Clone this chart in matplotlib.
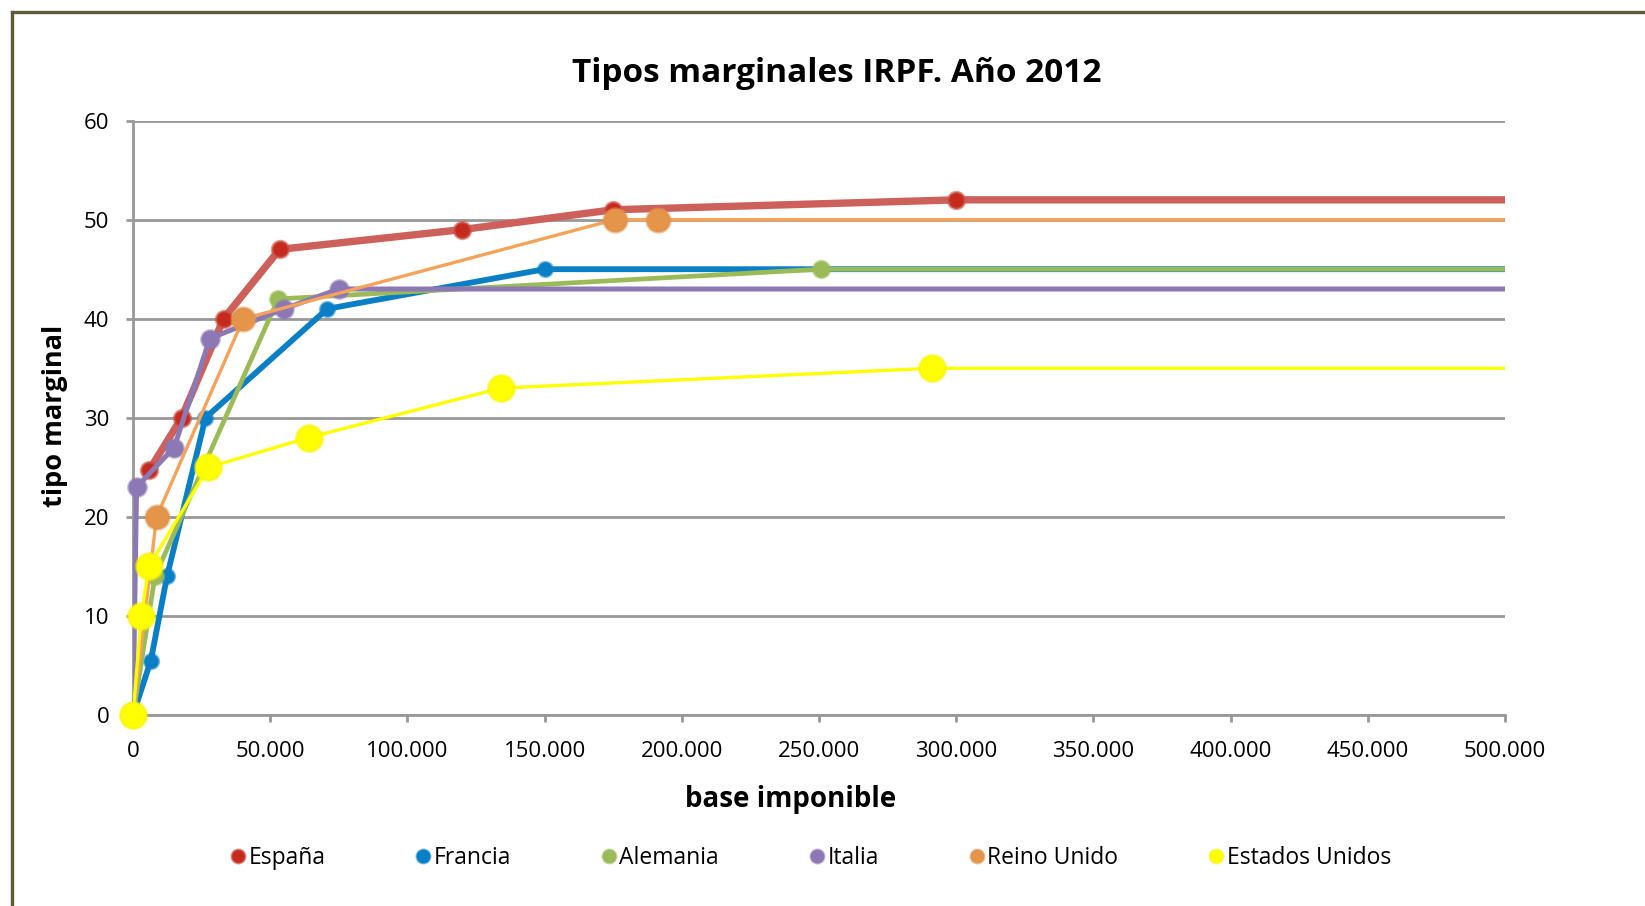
import matplotlib
matplotlib.use("Agg")
import matplotlib.pyplot as plt
from matplotlib.ticker import FuncFormatter, MultipleLocator
from matplotlib.lines import Line2D

plt.rcParams['font.family'] = ['Open Sans', 'DejaVu Sans']

# ---- data (base imponible, tipo marginal) ----
espana_x = [6000, 17707, 33007, 53407, 120000, 175000, 300000, 500000]
espana_y = [24.75, 30, 40, 47, 49, 51, 52, 52]

francia_x = [0, 6500, 12400, 26420, 70830, 150000, 500000]
francia_y = [0, 5.5, 14, 30, 41, 45, 45]

alemania_x = [0, 8004, 52881, 250730, 500000]
alemania_y = [0, 14, 42, 45, 45]

italia_x = [0, 1300, 15000, 28000, 55000, 75000, 500000]
italia_y = [0, 23, 27, 38, 41, 43, 43]

reino_x = [0, 8600, 40200, 175500, 191300, 500000]
reino_y = [0, 20, 40, 50, 50, 50]

eeuu_x = [0, 3000, 5800, 27500, 64000, 134000, 291300, 500000]
eeuu_y = [0, 10, 15, 25, 28, 33, 35, 35]

series_names = ["España", "Francia", "Alemania", "Italia", "Reino Unido", "Estados Unidos"]

title = "Tipos marginales IRPF. Año 2012"
xlabel = "base imponible"
ylabel = "tipo marginal"

# ---- styling ----
styles = [
    # line color, marker face, marker edge, linewidth, markersize
    ("#CD605A", "#C62A1E", (0.80, 0.35, 0.30, 0.6), 5.3, 12),
    ("#0A7FC6", "#0A7FC6", (0.04, 0.5, 0.78, 0.5), 4.2, 10.5),
    ("#9BBB59", "#9BBB59", (0.61, 0.73, 0.35, 0.5), 3.4, 12),
    ("#8B78B4", "#8B78B4", (0.55, 0.47, 0.71, 0.5), 3.6, 13),
    ("#F7A25A", "#E4954A", (0.89, 0.58, 0.29, 0.5), 2.4, 17),
    ("#FFFF00", "#FFFF00", (0.98, 0.95, 0.0, 0.5), 2.4, 19),
]

data = [(espana_x, espana_y), (francia_x, francia_y), (alemania_x, alemania_y),
        (italia_x, italia_y), (reino_x, reino_y), (eeuu_x, eeuu_y)]

fig = plt.figure(figsize=(16.45, 9.06), dpi=100)
ax = fig.add_axes([133/1645, 1-715/906, (1505-133)/1645, (715-120.6)/906])

handles = []
for i, ((xs, ys), name, st) in enumerate(zip(data, series_names, styles)):
    lc, mf, me, lw, ms = st
    ax.plot(xs, ys, color=lc, lw=lw, zorder=3 + i, solid_joinstyle='round',
            solid_capstyle='butt')
    ax.plot(xs[:-1], ys[:-1], ls='none', marker='o', markersize=ms,
            markerfacecolor=mf, markeredgecolor=me, markeredgewidth=2.0,
            zorder=3 + i, clip_on=False)
    handles.append(Line2D([], [], ls='none', marker='o', markersize=10,
                          markerfacecolor=mf, markeredgecolor=me,
                          markeredgewidth=1.5, label=name))

ax.set_xlim(0, 500000)
ax.set_ylim(0, 60)
ax.xaxis.set_major_locator(MultipleLocator(50000))
ax.yaxis.set_major_locator(MultipleLocator(10))
ax.xaxis.set_major_formatter(FuncFormatter(lambda v, p: f"{int(v):,}".replace(",", ".")))
ax.yaxis.set_major_formatter(FuncFormatter(lambda v, p: f"{int(v)}"))

grid_c = "#989898"
ax.grid(axis='y', color=grid_c, lw=2.0, zorder=1)
ax.set_axisbelow(True)
for s in ['top', 'right']:
    ax.spines[s].set_visible(False)
for s in ['left', 'bottom']:
    ax.spines[s].set_color(grid_c)
    ax.spines[s].set_linewidth(2.0)
    ax.spines[s].set_zorder(2)
ax.tick_params(axis='both', color=grid_c, width=2.0, length=5, labelsize=16,
               labelcolor='black', pad=12)
ax.tick_params(axis='x', pad=14)

fig.text(837/1645, 1-74/906, title, ha='center', va='center',
         fontsize=24, fontweight='bold')
fig.text(791/1645, 1-800/906, xlabel, ha='center', va='center',
         fontsize=20, fontweight='bold')
fig.text(54.6/1645, 1-416/906, ylabel, ha='center', va='center',
         fontsize=19.5, fontweight='bold', rotation=90)

fig.legend(handles=handles, loc='center', bbox_to_anchor=(811/1645, 1-858/906),
           ncol=6, frameon=False, fontsize=16.5, handlelength=0.6,
           handletextpad=0.15, columnspacing=3.98, borderaxespad=0)

# outer chart border (top and left visible)
bc = "#5F5A3C"
fig.add_artist(Line2D([12.3/1645, 12.3/1645], [-0.05, 1-11.7/906],
                      color=bc, lw=2.4, transform=fig.transFigure))
fig.add_artist(Line2D([12.3/1645, 1.05], [1-11.7/906, 1-11.7/906],
                      color=bc, lw=2.4, transform=fig.transFigure))

fig.savefig("out.png", dpi=100, facecolor='white')
